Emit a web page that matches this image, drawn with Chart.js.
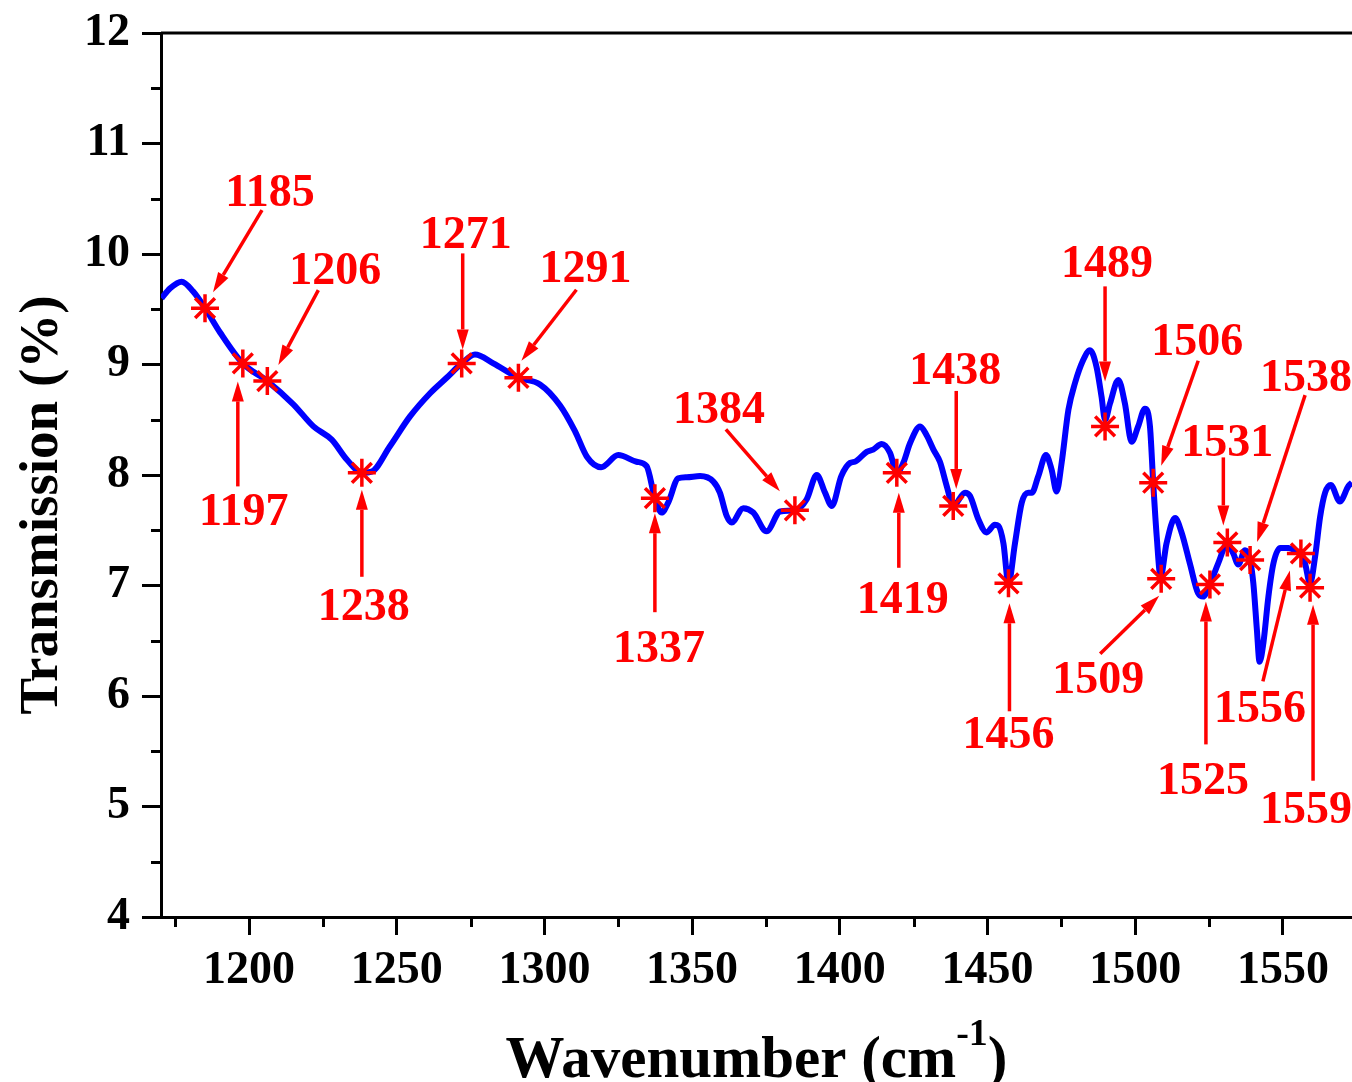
<!DOCTYPE html>
<html>
<head>
<meta charset="utf-8">
<script src="https://cdn.jsdelivr.net/npm/chart.js@4.4.0/dist/chart.umd.min.js"></script>
<style>
  html, body { margin: 0; padding: 0; background: #fff; overflow: hidden; }
  #wrap { width: 1352px; height: 1082px; }
</style>
</head>
<body>
<div id="wrap"><canvas id="ftir"></canvas></div>
<script>
// FTIR trace
const wavenumbers = [
  1170.4, 1173.3, 1177.2, 1181.1, 1185.1, 1190.2, 1197.9, 1206.2, 1215.0, 1221.8,
  1228.0, 1233.1, 1238.2, 1241.5, 1247.7, 1254.5, 1261.3, 1266.9, 1272.0, 1276.5,
  1282.7, 1291.2, 1298.5, 1305.3, 1310.3, 1314.5, 1319.2, 1325.0, 1331.2, 1334.6,
  1337.4, 1339.7, 1341.9, 1345.3, 1348.2, 1352.7, 1357.2, 1359.4, 1361.7, 1363.4,
  1367.3, 1370.7, 1375.2, 1379.8, 1384.8, 1388.8, 1392.2, 1395.0, 1397.3, 1400.5,
  1403.5, 1405.1, 1409.1, 1411.3, 1414.2, 1417.0, 1419.3, 1421.5, 1423.8, 1427.2,
  1429.4, 1431.7, 1433.9, 1436.2, 1438.4, 1442.4, 1444.1, 1446.9, 1449.7, 1452.5,
  1453.7, 1455.4, 1457.1, 1459.3, 1461.6, 1463.8, 1465.0, 1467.2, 1469.8, 1471.7,
  1473.4, 1475.1, 1477.4, 1479.6, 1482.4, 1484.7, 1486.9, 1488.6, 1489.8, 1491.5,
  1494.3, 1496.5, 1498.8, 1501.0, 1503.3, 1505.0, 1506.1, 1507.3, 1508.6, 1510.6,
  1513.5, 1515.7, 1518.5, 1521.3, 1523.0, 1525.3, 1528.1, 1531.2, 1533.2, 1534.9,
  1537.2, 1538.9, 1540.0, 1541.2, 1542.1, 1543.4, 1545.1, 1546.8, 1549.1, 1551.9,
  1554.7, 1556.1, 1557.5, 1559.2, 1560.9, 1562.6, 1564.3, 1566.2, 1569.3, 1572.2,
  1573.4
];
const transmission = [
  9.60, 9.69, 9.75, 9.66, 9.51, 9.29, 9.01, 8.85, 8.64, 8.44,
  8.32, 8.14, 8.02, 8.03, 8.26, 8.53, 8.74, 8.88, 9.01, 9.09,
  9.01, 8.88, 8.82, 8.63, 8.40, 8.16, 8.07, 8.18, 8.12, 8.08,
  7.79, 7.66, 7.75, 7.97, 7.98, 7.99, 7.94, 7.84, 7.63, 7.57,
  7.70, 7.66, 7.49, 7.67, 7.68, 7.78, 8.00, 7.84, 7.72, 7.99,
  8.11, 8.12, 8.21, 8.23, 8.28, 8.20, 8.02, 8.11, 8.29, 8.44,
  8.36, 8.23, 8.12, 7.90, 7.72, 7.84, 7.81, 7.60, 7.48, 7.55,
  7.54, 7.38, 7.02, 7.38, 7.75, 7.84, 7.84, 7.99, 8.18, 8.05,
  7.85, 8.11, 8.59, 8.83, 9.04, 9.13, 8.98, 8.71, 8.50, 8.65,
  8.86, 8.65, 8.30, 8.44, 8.60, 8.44, 7.93, 7.44, 7.08, 7.38,
  7.61, 7.48, 7.20, 6.93, 6.90, 7.01, 7.20, 7.38, 7.29, 7.19,
  7.32, 7.23, 7.02, 6.60, 6.31, 6.48, 6.90, 7.20, 7.34, 7.34,
  7.31, 7.29, 7.20, 7.02, 7.26, 7.62, 7.84, 7.91, 7.76, 7.90,
  7.93
];

// marked bands
const peakLabels = ['1185', '1197', '1206', '1238', '1271', '1291', '1337', '1384', '1419', '1438',
                    '1456', '1489', '1506', '1509', '1525', '1531', '1538', '1556', '1559'];
const peakWavenumbers = [1185.1, 1197.9, 1206.2, 1238.2, 1272.0, 1291.2, 1337.4, 1384.8, 1419.3, 1438.4,
                         1457.1, 1489.8, 1506.1, 1508.8, 1525.3, 1531.2, 1538.9, 1556.1, 1559.2];
const peakTransmission = [9.51, 9.01, 8.85, 8.02, 9.01, 8.88, 7.79, 7.68, 8.02, 7.72,
                          7.02, 8.44, 7.93, 7.06, 7.01, 7.39, 7.23, 7.29, 6.98];

const xTicks = [1200, 1250, 1300, 1350, 1400, 1450, 1500, 1550];
const yTicks = [4, 5, 6, 7, 8, 9, 10, 11, 12];

// where each label and arrow sits, in px relative to its star
const callouts = [
  { label: [65, -117], from: [57, -98],  to: [8, -16] },
  { label: [1, 147],   from: [-5, 123],  to: [-5, 18] },
  { label: [68, -112], from: [51, -91],  to: [11, -16] },
  { label: [2, 132],   from: [0, 104],   to: [0, 17] },
  { label: [4, -130],  from: [1, -110],  to: [1, -14] },
  { label: [67, -111], from: [58, -88],  to: [3, -17] },
  { label: [4, 149],   from: [0, 114],   to: [0, 15] },
  { label: [-76, -102], from: [-69, -81], to: [-15, -19] },
  { label: [6, 125],   from: [2, 95],    to: [2, 20] },
  { label: [2, -137],  from: [3, -115],  to: [3, -17] },
  { label: [0, 150],   from: [1, 128],   to: [1, 20] },
  { label: [2, -164],  from: [0, -140],  to: [0, -45] },
  { label: [44, -143], from: [45, -122], to: [8, -17] },
  { label: [-63, 99],  from: [-61, 75],  to: [-2, 17] },
  { label: [-7, 195],  from: [-4, 160],  to: [-4, 17] },
  { label: [0, -101],  from: [-4, -85],  to: [-4, -17] },
  { label: [56, -184], from: [55, -165], to: [7, -18] },
  { label: [-41, 154], from: [-38, 128], to: [-11, 17] },
  { label: [-4, 220],  from: [3, 193],   to: [3, 17] }
];

const FONT = '"Liberation Serif", "Times New Roman", serif';
const RED = '#ff0000';

function drawArrow(ctx, x0, y0, x1, y1) {
  const ang = Math.atan2(y1 - y0, x1 - x0);
  const head = 20, half = 6;
  const bx = x1 - head * Math.cos(ang), by = y1 - head * Math.sin(ang);
  ctx.beginPath();
  ctx.moveTo(x0, y0);
  ctx.lineTo(bx, by);
  ctx.stroke();
  ctx.beginPath();
  ctx.moveTo(x1, y1);
  ctx.lineTo(bx + half * Math.sin(ang), by - half * Math.cos(ang));
  ctx.lineTo(bx - half * Math.sin(ang), by + half * Math.cos(ang));
  ctx.closePath();
  ctx.fill();
}

const decorations = {
  id: 'decorations',
  afterDatasetsDraw(chart) {
    const { ctx, scales: { x, y } } = chart;
    ctx.save();
    ctx.strokeStyle = RED;
    ctx.fillStyle = RED;
    ctx.lineWidth = 3.5;
    ctx.font = `bold 46px ${FONT}`;
    ctx.textAlign = 'center';
    ctx.textBaseline = 'alphabetic';
    peakLabels.forEach((txt, i) => {
      const px = x.getPixelForValue(peakWavenumbers[i]);
      const py = y.getPixelForValue(peakTransmission[i]);
      const c = callouts[i];
      drawArrow(ctx, px + c.from[0], py + c.from[1], px + c.to[0], py + c.to[1]);
      ctx.fillText(txt, px + c.label[0], py + c.label[1] + 15);
    });
    ctx.restore();
  },
  afterDraw(chart) {
    const { ctx, chartArea: a, scales: { x, y } } = chart;
    ctx.save();
    ctx.strokeStyle = '#000';
    ctx.lineWidth = 3;
    // top frame
    ctx.beginPath();
    ctx.moveTo(a.left, a.top);
    ctx.lineTo(a.right, a.top);
    ctx.stroke();
    // minor ticks
    ctx.beginPath();
    for (let v = 1175; v < x.max; v += 50) {
      const px = Math.round(x.getPixelForValue(v)) + 0.5;
      ctx.moveTo(px, a.bottom);
      ctx.lineTo(px, a.bottom + 10);
    }
    for (let v = 4.5; v < 12; v += 1) {
      const py = Math.round(y.getPixelForValue(v)) + 0.5;
      ctx.moveTo(a.left, py);
      ctx.lineTo(a.left - 10, py);
    }
    ctx.stroke();

    // axis titles
    ctx.fillStyle = '#000';
    ctx.textBaseline = 'alphabetic';
    ctx.textAlign = 'left';
    const big = `bold 59px ${FONT}`, small = `bold 38px ${FONT}`;
    ctx.font = big;
    const main = 'Wavenumber (cm', close = ')';
    const wMain = ctx.measureText(main).width, wClose = ctx.measureText(close).width;
    ctx.font = small;
    const wSup = ctx.measureText('-1').width;
    let tx = (a.left + a.right) / 2 - (wMain + wSup + wClose) / 2;
    const base = chart.height - 5;
    ctx.font = big;
    ctx.fillText(main, tx, base);
    tx += wMain;
    ctx.font = small;
    ctx.fillText('-1', tx, base - 32);
    tx += wSup;
    ctx.font = big;
    ctx.fillText(close, tx, base);

    ctx.translate(57, (a.top + a.bottom) / 2 + 30);
    ctx.rotate(-Math.PI / 2);
    ctx.textAlign = 'center';
    ctx.font = `bold 55px ${FONT}`;
    ctx.fillText('Transmission (%)', 0, 0);
    ctx.restore();
  }
};

const tickFont = { family: FONT, size: 46, weight: 'bold' };

new Chart(document.getElementById('ftir'), {
  type: 'line',
  data: {
    datasets: [
      {
        data: wavenumbers.map((w, i) => ({ x: w, y: transmission[i] })),
        borderColor: '#0000ff',
        borderWidth: 6,
        pointRadius: 0,
        cubicInterpolationMode: 'monotone',
        order: 2
      },
      {
        data: peakWavenumbers.map((w, i) => ({ x: w, y: peakTransmission[i] })),
        showLine: false,
        pointStyle: 'star',
        pointRadius: 14,
        pointBorderColor: RED,
        pointBorderWidth: 3.5,
        order: 1
      }
    ]
  },
  options: {
    responsive: true,
    maintainAspectRatio: false,
    animation: false,
    layout: { autoPadding: false, padding: { top: 33, right: 0, left: 0, bottom: 0 } },
    plugins: { legend: { display: false }, tooltip: { enabled: false } },
    scales: {
      x: {
        type: 'linear',
        min: 1170.2,
        max: 1573.4,
        afterBuildTicks: s => { s.ticks = xTicks.map(v => ({ value: v })); },
        afterFit: s => { s.height = 165; s.paddingLeft = 0; s.paddingRight = 0; },
        grid: { drawOnChartArea: false, tickLength: 18, tickWidth: 3, tickColor: '#000' },
        border: { color: '#000', width: 3 },
        ticks: { color: '#000', font: tickFont, padding: 9, maxRotation: 0, autoSkip: false,
                 callback: v => String(v) }
      },
      y: {
        type: 'linear',
        min: 4,
        max: 12,
        afterBuildTicks: s => { s.ticks = yTicks.map(v => ({ value: v })); },
        afterFit: s => { s.width = 161; s.paddingTop = 0; s.paddingBottom = 0; },
        grid: { drawOnChartArea: false, tickLength: 19, tickWidth: 3, tickColor: '#000' },
        border: { color: '#000', width: 3 },
        ticks: { color: '#000', font: tickFont, padding: 12, callback: v => String(v) }
      }
    }
  },
  plugins: [decorations]
});
</script>
</body>
</html>
